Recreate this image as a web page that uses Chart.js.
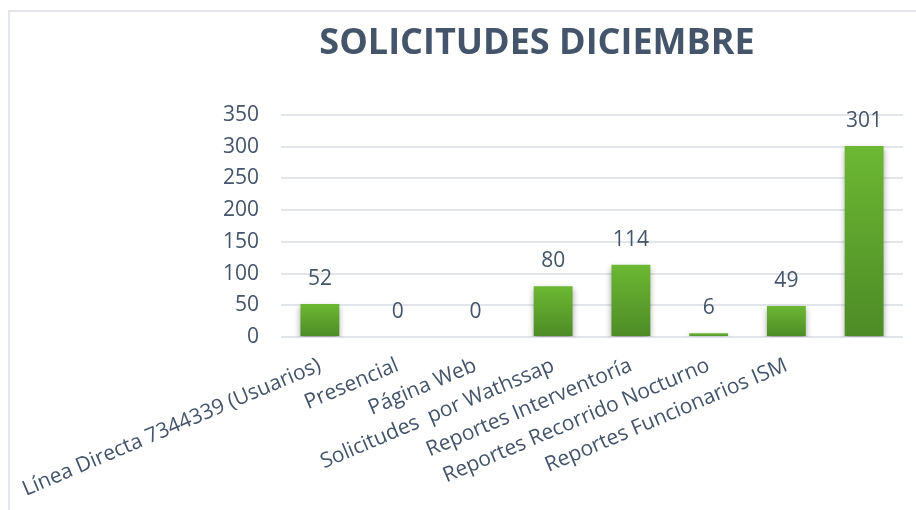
<!DOCTYPE html>
<html>
<head>
<meta charset="utf-8">
<script src="https://cdn.jsdelivr.net/npm/chart.js@4/dist/chart.umd.min.js"></script>
<style>
  html, body { margin: 0; padding: 0; background: #fff; }
  #wrap { position: relative; width: 916px; height: 510px; }
  #frame { position: absolute; left: 8px; top: 10px; right: 0; bottom: 0;
           border-top: 2px solid #e4e4ec; border-left: 2px solid #e4e8ee; }
  canvas { position: absolute; left: 0; top: 0; }
</style>
</head>
<body>
<div id="wrap">
  <div id="frame"></div>
  <canvas id="myChart" width="916" height="510"></canvas>
</div>
<script>
// datos del gráfico
var titulo = "SOLICITUDES DICIEMBRE";
// la ultima barra (301) no tiene etiqueta en el original
var categorias = [
  "Línea Directa 7344339 (Usuarios)",
  "Presencial",
  "Página Web",
  "Solicitudes  por Wathssap",
  "Reportes Interventoría",
  "Reportes Recorrido Nocturno",
  "Reportes Funcionarios ISM",
  ""
];
var valores = [52, 0, 0, 80, 114, 6, 49, 301];
var ticksY = [0, 50, 100, 150, 200, 250, 300, 350];

var colorTexto = "#44546A";
var fuente = "'Open Sans', 'Noto Sans', sans-serif";

// degradado verde por barra
function colorBarra(c) {
  var chart = c.chart;
  if (!chart.chartArea || !chart.scales.y) return "#5ea22d";
  var y = chart.scales.y;
  var v = c.raw || 0;
  var top = y.getPixelForValue(v);
  var base = y.getPixelForValue(0);
  if (base - top < 1) return "#6cb833";
  var g = chart.ctx.createLinearGradient(0, top, 0, base);
  g.addColorStop(0, "#6cb833");
  g.addColorStop(1, "#4d8b26");
  return g;
}

var sombra = {
  id: "sombra",
  beforeDatasetsDraw: function (chart) {
    var ctx = chart.ctx;
    ctx.save();
    ctx.shadowColor = "rgba(0,0,0,0.35)";
    ctx.shadowBlur = 6;
    ctx.shadowOffsetY = 3;
  },
  afterDatasetsDraw: function (chart) {
    chart.ctx.restore();
  }
};

var etiquetas = {
  id: "etiquetas",
  afterDraw: function (chart) {
    var ctx = chart.ctx;
    var meta = chart.getDatasetMeta(0);
    ctx.save();
    ctx.font = "21px " + fuente;
    ctx.fillStyle = colorTexto;
    ctx.textAlign = "center";
    ctx.textBaseline = "middle";
    meta.data.forEach(function (bar, i) {
      ctx.fillText(String(valores[i]), bar.x, bar.y - 25);
    });
    // titulo
    ctx.font = "bold 36px " + fuente;
    ctx.fillText(titulo, 537, 44);
    ctx.restore();
  }
};

var ctx = document.getElementById("myChart");
var chart = new Chart(ctx, {
  type: "bar",
  data: {
    labels: categorias,
    datasets: [
      {
        label: titulo,
        data: valores,
        backgroundColor: colorBarra,
        borderWidth: 0,
        categoryPercentage: 1,
        barPercentage: 0.5
      }
    ]
  },
  options: {
    responsive: false,
    animation: false,
    layout: { padding: { top: 115, left: 201, right: 13, bottom: 0 } },
    plugins: {
      legend: { display: false },
      title: { display: false },
      tooltip: { enabled: false }
    },
    scales: {
      x: {
        grid: { display: false },
        border: { display: false },
        afterFit: function (axis) {
          axis.paddingLeft = 0;
          axis.paddingRight = 0;
        },
        ticks: {
          color: colorTexto,
          font: { family: fuente, size: 21 },
          minRotation: 23,
          maxRotation: 23,
          autoSkip: false,
          padding: 8
        }
      },
      y: {
        min: 0,
        max: 350,
        afterBuildTicks: function (axis) {
          axis.ticks = ticksY.map(function (v) { return { value: v }; });
        },
        grid: { color: "#e2e5ea", lineWidth: 2, drawTicks: false },
        border: { display: false },
        ticks: {
          color: colorTexto,
          font: { family: fuente, size: 21 },
          padding: 22
        }
      }
    }
  },
  plugins: [sombra, etiquetas]
});
</script>
</body>
</html>
